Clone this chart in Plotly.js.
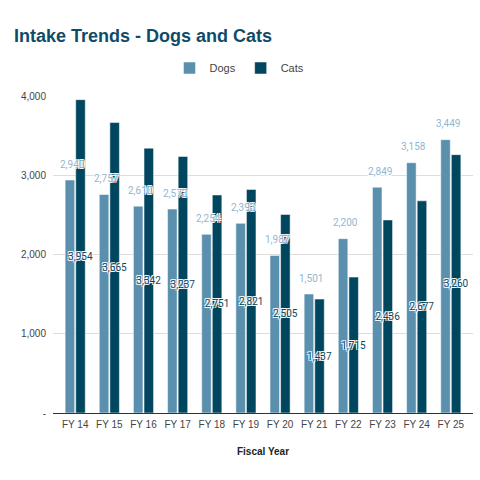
<!DOCTYPE html>
<html>
<head>
<meta charset="utf-8">
<script src="https://cdn.plot.ly/plotly-3.0.1.min.js"></script>
<style>html,body{margin:0;padding:0;background:#fff;}#chart{width:480px;height:480px;}</style>
</head>
<body>
<div id="chart"></div>
<script>
const categories = ["FY 14","FY 15","FY 16","FY 17","FY 18","FY 19","FY 20","FY 21","FY 22","FY 23","FY 24","FY 25"];
const dogs = [2940,2757,2610,2573,2254,2393,1987,1501,2200,2849,3158,3449];
const cats = [3954,3665,3342,3237,2751,2821,2505,1437,1715,2436,2677,3260];
const yTickVals = [0,1000,2000,3000,4000];
const yTickText = ["-","1,000","2,000","3,000","4,000"];

const fmt = v => v.toLocaleString("en-US");
const halo = "1px 1px 0 #fff, -1px -1px 0 #fff, 1px -1px 0 #fff, -1px 1px 0 #fff";
const labelFont = "Roboto, Arial, sans-serif";

const traces = [
  {
    type: "bar", name: "Dogs", x: categories, y: dogs,
    marker: {color: "#5a8fad", line: {color: "#ffffff", width: 0.5}},
    hoverinfo: "none"
  },
  {
    type: "bar", name: "Cats", x: categories, y: cats,
    marker: {color: "#01465f", line: {color: "#ffffff", width: 0.5}},
    text: cats.map(fmt), textposition: "inside", insidetextanchor: "middle", textangle: 0,
    cliponaxis: false, constraintext: "none",
    textfont: {family: labelFont, size: 10, color: "#0c4660", shadow: halo},
    hoverinfo: "none"
  }
];

// Dogs value labels: anchored at each Dogs bar top (data coords), lifted above it
const dogLabels = categories.map((c, i) => ({
  x: c, y: dogs[i], xref: "x", yref: "y",
  text: fmt(dogs[i]), showarrow: false,
  xanchor: "center", yanchor: "middle", xshift: -3, yshift: 16,
  font: {family: labelFont, size: 10, color: "#93b6cf", shadow: halo}
}));

const layout = {
  width: 480, height: 480,
  margin: {l: 53, r: 7, t: 96, b: 67},
  paper_bgcolor: "#ffffff", plot_bgcolor: "#ffffff",
  barmode: "group", bargap: 0.38, bargroupgap: 0.1,
  title: {
    text: "<b>Intake Trends - Dogs and Cats</b>",
    x: 14/480, xanchor: "left", xref: "container",
    y: 1 - 36/480, yanchor: "middle", yref: "container",
    font: {family: "Liberation Sans, Arial, sans-serif", size: 18, color: "#0f4b69"}
  },
  legend: {
    orientation: "h", x: 0.444, xanchor: "center", y: 1 + 28/317, yanchor: "middle",
    font: {family: "Liberation Sans, Arial, sans-serif", size: 11, color: "#444"},
    itemwidth: 30, traceorder: "normal"
  },
  annotations: dogLabels,
  xaxis: {
    type: "category", range: [-0.65, 11.65],
    showgrid: false, showline: false, ticks: "", ticklabelstandoff: 4,
    tickfont: {family: "Liberation Sans, Arial, sans-serif", size: 10, color: "#444"},
    title: {text: "<b>Fiscal Year</b>", standoff: 18,
      font: {family: "Liberation Sans, Arial, sans-serif", size: 10, color: "#222"}}
  },
  yaxis: {
    range: [0, 4000], tickvals: yTickVals, ticktext: yTickText,
    showgrid: true, gridcolor: "#dddddd", gridwidth: 1,
    zeroline: true, zerolinecolor: "#333333", zerolinewidth: 1,
    showline: false, ticks: "", ticklabelstandoff: 6,
    tickfont: {family: "Liberation Sans, Arial, sans-serif", size: 10, color: "#444"}
  },
  showlegend: true
};

Plotly.newPlot("chart", traces, layout, {displayModeBar: false, staticPlot: true});
</script>
</body>
</html>
